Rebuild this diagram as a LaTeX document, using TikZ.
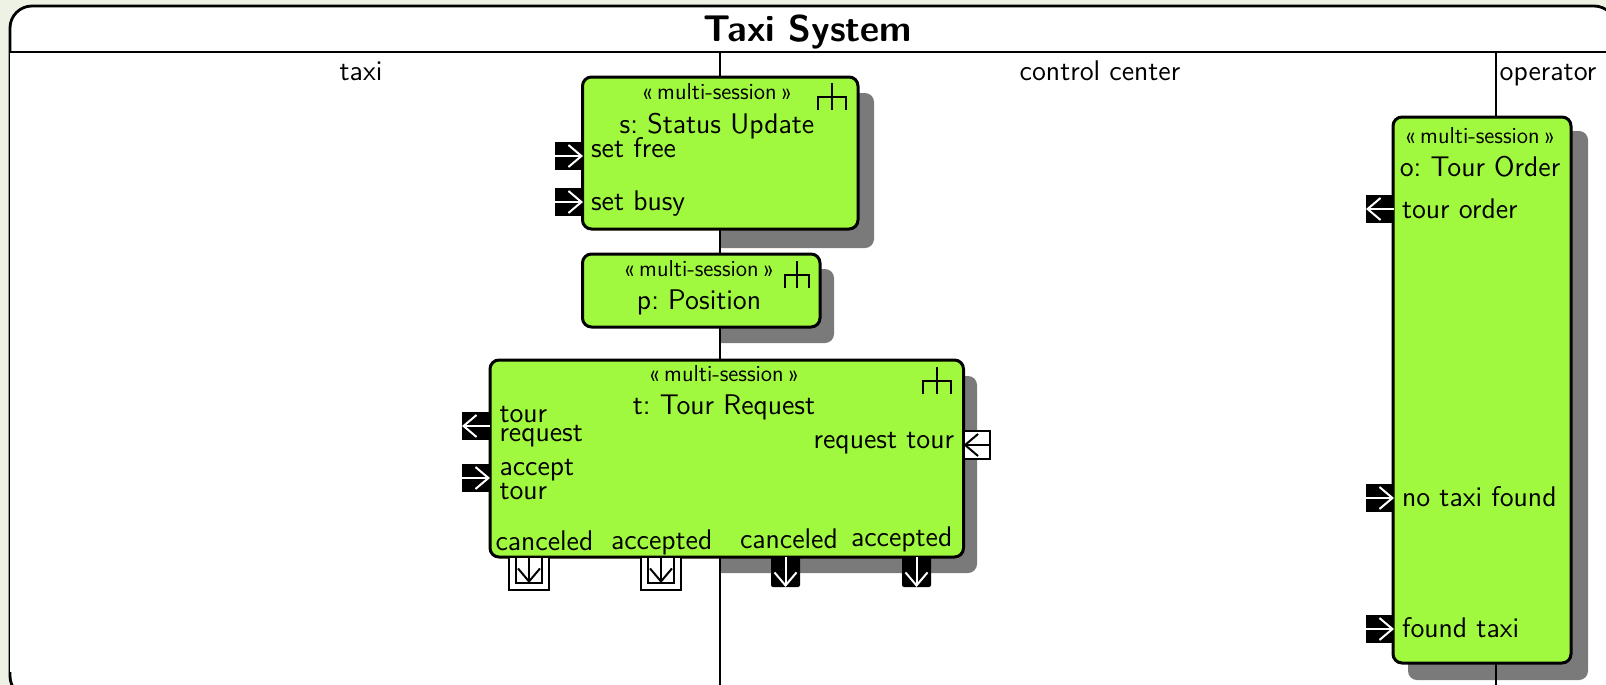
\documentclass[tikz,border=0pt]{standalone}
\usetikzlibrary{arrows.meta}
\renewcommand{\familydefault}{\sfdefault}
\frenchspacing
\definecolor{pagebg}{HTML}{EEF2E4}
\definecolor{blockgreen}{HTML}{A0F93F}
\definecolor{shadowgray}{HTML}{7A7A7A}
\newcommand{\multisession}{«\kern2.3pt multi-session\kern2.3pt »}
\tikzset{
  blocksize/.style 2 args={minimum width=#1*0.5pt, minimum height=#2*0.5pt},
  block/.style={draw, line width=1.5pt, fill=blockgreen, rounded corners=4.5pt, anchor=north west, inner sep=0pt, outer sep=0pt},
  blockshadow/.style={fill=shadowgray, rounded corners=4.5pt},
  label/.style={inner sep=0pt, outer sep=0pt, font=\fontsize{14.2}{9.75}\selectfont, align=left},
  stereo/.style={inner sep=0pt, outer sep=0pt, font=\fontsize{11.5}{12}\selectfont},
  portdark/.style={fill=black, inner sep=0pt, outer sep=0pt, blocksize={28}{28}},
  portdown/.style={fill=black, rounded corners=1pt, inner sep=0pt, outer sep=0pt, blocksize={29}{30}},
  portlight/.style={draw, line width=1pt, fill=white, inner sep=0pt, outer sep=0pt},
  darktip/.style={draw=white, line width=1pt, -{Straight Barb[length=6.5pt,width=11pt]}},
  lighttip/.style={draw=black, line width=1pt, -{Straight Barb[length=6.5pt,width=11pt]}},
}
\begin{document}
\begin{tikzpicture}[x=0.5pt, y=-0.5pt]
  \useasboundingbox (0,0) rectangle (1606,685);
  \fill[pagebg] (0,0) rectangle (1606,685);
  % frame
  \draw[fill=white, line width=1.4pt, rounded corners=11pt] (10,6) rectangle (1616,698);
  \node[font=\fontsize{18.6}{20}\selectfont\bfseries] (title) at (808,32) {Taxi System};

  \fill[blockshadow] (599,93) rectangle (874,248);
  \fill[blockshadow] (599,269) rectangle (834,343);
  \fill[blockshadow] (506,376) rectangle (977,573);
  \fill[blockshadow] (1408,131) rectangle (1588,680);

  % lanes
  \fill[white] (10,52) rectangle (720,672);
  \coordinate (laneleft) at (10,52);
  \coordinate (laneend) at (720,52);
  \coordinate (laneright) at (1615,52);
  \coordinate (lanebottom) at (720,690);
  \coordinate (optop) at (1496,52);
  \coordinate (opbottom) at (1496,690);
  \draw[line width=.6pt] (laneend) -- (laneright);
  \draw[line width=1.4pt] (laneleft) -- (laneend) -- (lanebottom);
  \draw[line width=1.2pt] (optop) -- (opbottom);
  \node[label] (taxilane) at (361,71) {taxi};
  \node[label] (centerlane) at (1100,71) {control center};
  \node[label] (oplane) at (1548,75) {operator};

  % blocks
  \node[block, blocksize={275.5}{152}] (status) at (582.5,77) {};
  \node[block, blocksize={237.5}{73}] (position) at (582.5,254) {};
  \node[block, blocksize={473.5}{197}] (tour) at (490,360) {};
  \node[block, blocksize={178}{546}] (order) at (1393,117) {};

  \node[stereo] (statusst) at (717,92) {\multisession};
  \node[label] (statusname) at (717,126) {s: Status Update};
  \node[stereo] (positionst) at (699,269) {\multisession};
  \node[label] (positionname) at (699,302) {p: Position};
  \node[stereo] (tourst) at (724,374) {\multisession};
  \node[label] (tourname) at (724,407) {t: Tour Request};
  \node[stereo] (orderst) at (1480,136) {\multisession};
  \node[label] (ordername) at (1480,167) {o: Tour Order};

  \foreach \fx/\fy/\fw in {832/83/14, 797/261/12, 937/367/14}
    \draw[line width=1pt] (\fx,\fy) -- (\fx,\fy+27)
      (\fx-\fw,\fy+27) -- (\fx-\fw,\fy+14) -- (\fx+\fw,\fy+14) -- (\fx+\fw,\fy+27);

  % ports
  \foreach \pname/\px/\py/\pfrom/\pto in {
      setfree/569/156/west/east, setbusy/569/202/west/east,
      tourreq/476/426/east/west, accept/476/478/west/east,
      orderin/1380/209/east/west, notaxi/1380/498/west/east, foundtaxi/1380/629/west/east} {
    \node[portdark] (\pname) at (\px,\py) {};
    \draw[darktip] (\pname.\pfrom) -- (\pname.\pto);
  }
  \foreach \pname/\px in {cancelout/785.5, acceptout/916.5} {
    \node[portdown, anchor=north] (\pname) at (\px,557) {};
    \draw[darktip] (\pname.north) -- (\pname.south);
  }
  \node[portlight, blocksize={26}{28}, anchor=west] (reqtour) at (963.5,445) {};
  \draw[lighttip] (reqtour.east) -- (reqtour.west);
  \foreach \pname/\px in {cancelin/529, acceptin/661} {
    \node[portlight, blocksize={40}{33}, anchor=north] (\pname outer) at (\px,557) {};
    \node[portlight, blocksize={26}{26}, anchor=north] (\pname) at (\px,557) {};
    \draw[lighttip] (\pname.north) -- (\pname.south);
  }

  % port labels
  \node[label, anchor=west] (setfreetxt) at (591,148) {set free};
  \node[label, anchor=west] (setbusytxt) at (591,204) {set busy};
  \node[label, anchor=west] (tourreqtxt) at (499.5,426.5) {tour\\request};
  \node[label, anchor=west] (accepttxt) at (499.5,479.5) {accept\\tour};
  \node[label, anchor=east] (reqtourtxt) at (954,443) {request tour};
  \node[label, anchor=west] (cancelintxt) at (495.5,541) {canceled};
  \node[label, anchor=west] (acceptintxt) at (611,542) {accepted};
  \node[label, anchor=west] (canceloutxt) at (740,539) {canceled};
  \node[label, anchor=west] (acceptoutxt) at (851,539) {accepted};
  \node[label, anchor=west] (orderintxt) at (1402,209) {tour order};
  \node[label, anchor=west] (notaxitxt) at (1402,497) {no taxi found};
  \node[label, anchor=west] (foundtaxitxt) at (1402,628) {found taxi};
\end{tikzpicture}
\end{document}
